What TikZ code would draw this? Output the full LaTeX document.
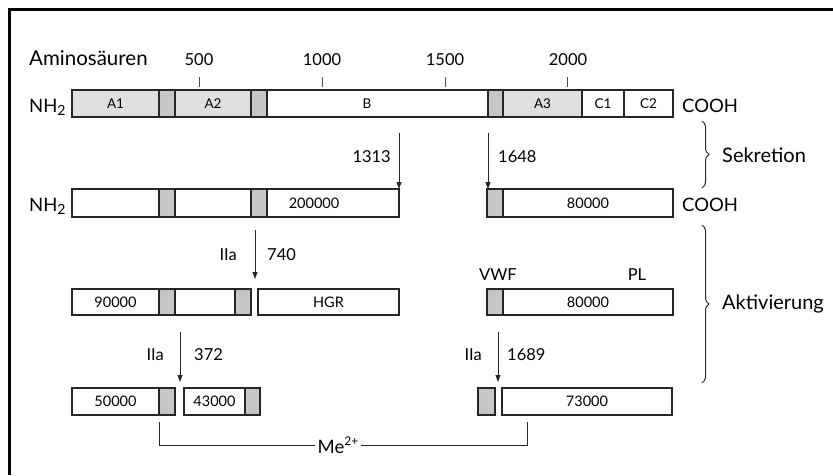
\documentclass[tikz,border=0pt]{standalone}
\usepackage{fontspec}
\setmainfont{Lato}
\usetikzlibrary{arrows.meta,decorations.pathreplacing}
\newcommand\fs[1]{\fontsize{#1}{#1}\selectfont}
\newcommand\segm[7]{\node[#6, minimum width={#3-#2}, minimum height={#5-#4}] (#1) at ({(#2+#3)/2},{(#4+#5)/2}) {#7};}
\begin{document}
\begin{tikzpicture}[x=1pt,y=-1pt,
  seg/.style={draw=black!85, line width=1.3pt, inner sep=0pt, outer sep=0pt, font=\fs{14.5}},
  lite/.style={seg, fill=gray!25},
  dark/.style={seg, fill=gray!45},
  wht/.style={seg, fill=white},
  txt/.style={inner sep=0pt, anchor=base},
  lbl/.style={txt, font=\fs{16.5}},
  arr/.style={line width=0.8pt, black!85, -{Triangle[length=7pt,width=5pt]}},
  tick/.style={line width=0.8pt, black!70},
  brc/.style={line width=1pt, black!85, decorate, decoration={brace, amplitude=7pt}}]
\useasboundingbox (0,0) rectangle (833,475);
\draw[line width=3pt] (9,475) -- (9,9.5) -- (833,9.5);

% scale
\node[txt, anchor=base west, font=\fs{20.5}] (amino) at (29,65) {Aminosäuren};
\node[lbl] (n500) at (199,65) {500};
\node[lbl] (n1000) at (322,65) {1000};
\node[lbl] (n1500) at (445,65) {1500};
\node[lbl] (n2000) at (568,65) {2000};
\foreach \x in {199,322,445,567} \draw[tick] (\x,77) -- (\x,87);

% row 1
\node[txt, anchor=base west, font=\fs{18.5}] (nh1) at (29,112) {NH\raisebox{-0.35ex}{\fs{14}2}};
\segm{a1}{72}{159}{90}{117}{lite,font=\fs{13.5}}{A1}
\segm{d1}{159}{175}{90}{117}{dark}{}
\segm{a2}{175}{251}{90}{117}{lite,font=\fs{13.5}}{A2}
\segm{d2}{251}{267}{90}{117}{dark}{}
\segm{b}{267}{488}{90}{117}{wht}{}
\node[font=\fs{13.5}, inner sep=0pt] (blab) at (367,103.5) {B};
\segm{d3}{488}{503}{90}{117}{dark}{}
\segm{a3}{503}{582}{90}{117}{lite,font=\fs{13.5}}{A3}
\segm{c1}{582}{624}{90}{117}{wht,font=\fs{13.5}}{C1}
\segm{c2}{624}{673}{90}{117}{wht,font=\fs{13.5}}{C2}
\node[txt, anchor=base west, font=\fs{18.5}] (cooh1) at (682,112) {COOH};

% secretion arrows
\coordinate (s1313) at (399,133);
\coordinate (s1648) at (488,133);
\node[lbl, anchor=base east] (l1313) at (391,162) {1313};
\node[lbl, anchor=base west] (l1648) at (498,162) {1648};
\draw[brc] (702,121) -- (702,188);
\node[txt, anchor=base west, font=\fs{20}] (sekr) at (722,162) {Sekretion};

% row 2
\node[txt, anchor=base west, font=\fs{18.5}] (nh2) at (29,211) {NH\raisebox{-0.35ex}{\fs{14}2}};
\segm{r2a}{72}{159}{189}{217}{wht}{}
\segm{r2b}{159}{175}{189}{217}{dark}{}
\segm{r2c}{175}{251}{189}{217}{wht}{}
\segm{r2d}{251}{267}{189}{217}{dark}{}
\segm{r2e}{267}{399}{189}{217}{wht}{}
\node[font=\fs{14.5}, inner sep=0pt] (l200) at (314,203) {200000};
\segm{r2f}{487}{503}{189}{217}{dark}{}
\segm{r2g}{503}{673}{189}{217}{wht}{80000}
\node[txt, anchor=base west, font=\fs{18.5}] (cooh2) at (682,211) {COOH};
\draw[arr] (s1313) -- (r2e.north east);
\draw[arr] (s1648) -- (r2f.north west -| s1648);

% activation brace
\draw[brc] (702,225) -- (702,383);
\node[txt, anchor=base west, font=\fs{20}] (aktiv) at (722,309) {Aktivierung};

% arrow 740
\coordinate (s740) at (255,230);
\coordinate (e740) at (255,279);
\draw[arr] (s740) -- (e740);
\node[lbl, anchor=base east] (i740) at (237,260) {IIa};
\node[lbl, anchor=base west] (l740) at (267,260) {740};

% row 3
\segm{r3a}{72}{159}{289}{315}{wht}{90000}
\segm{r3b}{159}{175}{289}{315}{dark}{}
\segm{r3c}{175}{235}{289}{315}{wht}{}
\segm{r3d}{235}{251}{289}{315}{dark}{}
\segm{r3e}{258}{399}{289}{315}{wht}{HGR}
\node[lbl] (vwf) at (498,280) {VWF};
\node[lbl] (pl) at (637,280) {PL};
\segm{r3f}{487}{503}{289}{315}{dark}{}
\segm{r3g}{503}{673}{289}{315}{wht}{80000}

% arrows 372 / 1689
\coordinate (s372) at (180,332);
\coordinate (e372) at (180,382);
\draw[arr] (s372) -- (e372);
\node[lbl, anchor=base east] (i372) at (164,360) {IIa};
\node[lbl, anchor=base west] (l372) at (194,360) {372};
\coordinate (s1689) at (498,332);
\coordinate (e1689) at (498,382);
\draw[arr] (s1689) -- (e1689);
\node[lbl, anchor=base east] (i1689) at (482,360) {IIa};
\node[lbl, anchor=base west] (l1689) at (507,360) {1689};

% row 4
\segm{r4a}{72}{159}{388}{415}{wht}{50000}
\segm{r4b}{159}{175}{388}{415}{dark}{}
\segm{r4c}{184}{245}{388}{415}{wht}{43000}
\segm{r4d}{245}{260}{388}{415}{dark}{}
\segm{r4e}{478}{495}{388}{415}{dark}{}
\segm{r4f}{502}{672}{388}{415}{wht}{73000}

% Me2+ bracket
\node[font=\fs{18.5}, inner sep=3pt] (me) at (338,445) {Me\raisebox{0.9ex}{\fs{12}2+}};
\coordinate (mel) at (159,422);
\coordinate (mer) at (527,422);
\draw[line width=0.8pt, black!85] (mel) |- (me.west);
\draw[line width=0.8pt, black!85] (me.east) -| (mer);
\end{tikzpicture}
\end{document}
